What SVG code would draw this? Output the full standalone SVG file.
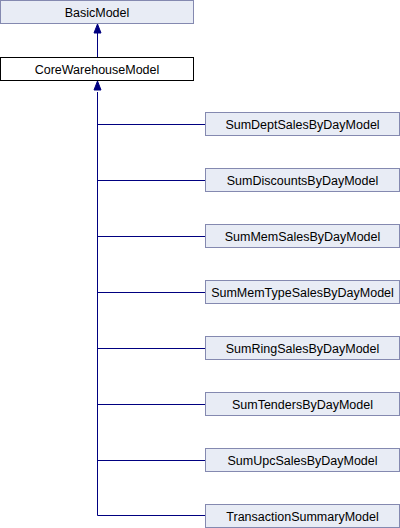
<svg xmlns="http://www.w3.org/2000/svg" width="400" height="528" viewBox="0 0 400 528">
<style>
.b{fill:#e8ecf5;stroke:#8489b0;stroke-width:1}
.w{fill:#ffffff;stroke:#000000;stroke-width:1}
text{font-family:"Liberation Sans",Arial,sans-serif;font-size:12.5px;fill:#000;text-anchor:middle}
.c{fill:none;stroke:#000080;stroke-width:1}
.a{fill:#000080;stroke:#000080;stroke-width:1}
</style>
<g id="connectors">
<path class="c" d="M97.5,57 L97.5,25"/>
<path class="a" d="M97.5,24 L101,33 L94,33 Z"/>
<path class="c" d="M97.5,92 L97.5,515.5 L205,515.5"/>
<path class="a" d="M97.5,81 L101,90 L94,90 Z"/>
<path class="c" d="M97.5,124.5 H205 M97.5,180.5 H205 M97.5,236.5 H205 M97.5,292.5 H205 M97.5,348.5 H205 M97.5,404.5 H205 M97.5,460.5 H205"/>
</g>
<g id="BasicModel"><rect class="b" x="0.5" y="0.5" width="193" height="23"/><text x="97" y="16.5">BasicModel</text></g>
<g id="CoreWarehouseModel"><rect class="w" x="0.5" y="57.5" width="193" height="23"/><text x="97" y="73.5">CoreWarehouseModel</text></g>
<g id="SumDeptSalesByDayModel"><rect class="b" x="205.5" y="112.5" width="194" height="23"/><text x="302.5" y="128.5">SumDeptSalesByDayModel</text></g>
<g id="SumDiscountsByDayModel"><rect class="b" x="205.5" y="168.5" width="194" height="23"/><text x="302.5" y="184.5">SumDiscountsByDayModel</text></g>
<g id="SumMemSalesByDayModel"><rect class="b" x="205.5" y="224.5" width="194" height="23"/><text x="302.5" y="240.5">SumMemSalesByDayModel</text></g>
<g id="SumMemTypeSalesByDayModel"><rect class="b" x="205.5" y="280.5" width="194" height="23"/><text x="302.5" y="296.5">SumMemTypeSalesByDayModel</text></g>
<g id="SumRingSalesByDayModel"><rect class="b" x="205.5" y="336.5" width="194" height="23"/><text x="302.5" y="352.5">SumRingSalesByDayModel</text></g>
<g id="SumTendersByDayModel"><rect class="b" x="205.5" y="392.5" width="194" height="23"/><text x="302.5" y="408.5">SumTendersByDayModel</text></g>
<g id="SumUpcSalesByDayModel"><rect class="b" x="205.5" y="448.5" width="194" height="23"/><text x="302.5" y="464.5">SumUpcSalesByDayModel</text></g>
<g id="TransactionSummaryModel"><rect class="b" x="205.5" y="504.5" width="194" height="23"/><text x="302.5" y="520.5">TransactionSummaryModel</text></g>
</svg>
